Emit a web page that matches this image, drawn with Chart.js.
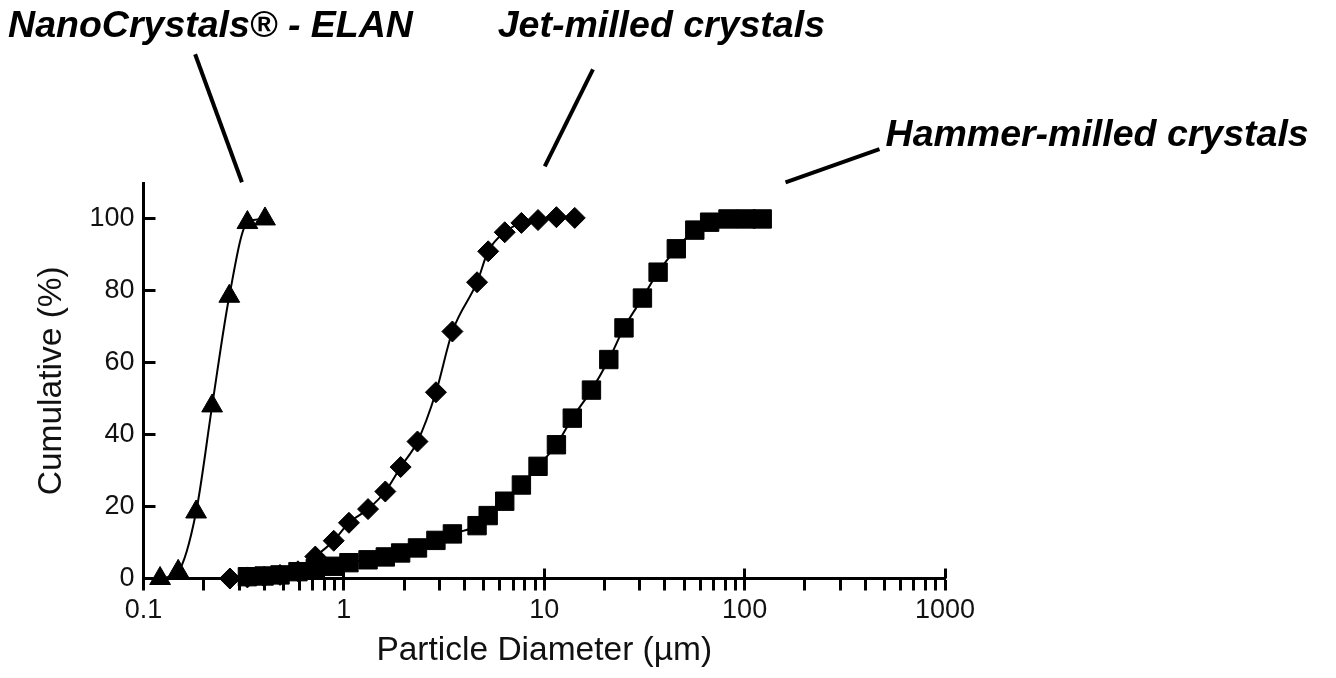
<!DOCTYPE html>
<html><head><meta charset="utf-8">
<script src="https://cdn.jsdelivr.net/npm/chart.js@4.4.0/dist/chart.umd.min.js"></script>
<style>html,body{margin:0;padding:0;background:#fff;}canvas{display:block}</style>
</head><body>
<canvas id="c" width="1336" height="678"></canvas>
<script>
// ---- data ----
const nanoX = [0.121, 0.149, 0.183, 0.220, 0.268, 0.330, 0.404];
const nanoY = [0, 2, 18.5, 48, 78.5, 99, 100];

const jetX = [0.27, 0.33, 0.40, 0.48, 0.59, 0.72, 0.89, 1.06, 1.32, 1.61, 1.92, 2.33, 2.88, 3.48, 4.62, 5.25, 6.35, 7.69, 9.31, 11.5, 14.2];
const jetY = [0, 0.3, 0.5, 1.0, 2.0, 6.1, 10.5, 15.5, 19.3, 24.2, 31, 38.1, 51.8, 68.7, 82.4, 91, 96.3, 98.9, 99.7, 100.5, 100.3];

const hammerX = [0.33, 0.40, 0.48, 0.59, 0.72, 0.89, 1.06, 1.32, 1.61, 1.92, 2.33, 2.88, 3.48, 4.62, 5.25, 6.35, 7.69, 9.31, 11.5, 13.8, 17.2, 21.0, 25.0, 30.9, 37.0, 45.6, 56.4, 66.9, 82.6, 101.8, 122.4];
const hammerY = [0.5, 0.7, 1.0, 1.9, 2.8, 3.4, 4.4, 5.2, 6.0, 7.1, 8.5, 10.6, 12.4, 14.7, 17.5, 21.5, 26.0, 31.2, 37.2, 44.6, 52.4, 60.9, 69.7, 78.0, 85.2, 91.7, 96.9, 99.1, 100, 100, 100];

const xMajorTicks = [0.1, 1, 10, 100, 1000];
const xMinorMultipliers = [2, 3, 4, 5, 6, 7, 8, 9];
const yTicks = [0, 20, 40, 60, 80, 100];

const seriesLabels = ['NanoCrystals® - ELAN', 'Jet-milled crystals', 'Hammer-milled crystals'];

// callout labels (anchored in data units)
const callouts = [
  {text: seriesLabels[0], at: [0.0211, 153.5], line: [[0.181, 145.8], [0.31, 110.2]]},
  {text: seriesLabels[1], at: [5.86, 153.5], line: [[17.5, 141.6], [10.06, 114.6]]},
  {text: seriesLabels[2], at: [505, 123.2], line: [[471, 119.4], [160, 110.2]]}
];

const xTickValues = [];
xMajorTicks.forEach((d, i) => {
  xTickValues.push(d);
  if (i < xMajorTicks.length - 1) xMinorMultipliers.forEach(m => xTickValues.push(d * m));
});

const FONT = '"Liberation Sans", Arial, sans-serif';

function ds(label, xs, ys, style, r) {
  return {
    label,
    data: xs.map((v, i) => ({x: v, y: ys[i]})),
    borderColor: '#000', borderWidth: 2, backgroundColor: '#000',
    pointStyle: style, pointRadius: r, pointHoverRadius: r,
    pointBackgroundColor: '#000', pointBorderColor: '#000', pointBorderWidth: 1,
    cubicInterpolationMode: 'monotone', fill: false, clip: false
  };
}

function align(px, w) { return Math.round(px - w / 2) + w / 2; }

const decor = {
  id: 'decor',
  afterDraw(chart) {
    const {ctx, scales: {x, y}} = chart;
    ctx.save();
    ctx.strokeStyle = '#000';
    ctx.lineWidth = 3;
    xMajorTicks.forEach(v => {
      const px = align(x.getPixelForValue(v), 3);
      ctx.beginPath();
      ctx.moveTo(px, y.bottom);
      ctx.lineTo(px, y.bottom - 10);
      ctx.stroke();
    });
    ctx.lineWidth = 4;
    ctx.fillStyle = '#000';
    ctx.font = 'italic bold 37.5px ' + FONT;
    ctx.textBaseline = 'middle';
    ctx.textAlign = 'left';
    callouts.forEach(c => {
      ctx.beginPath();
      ctx.moveTo(x.getPixelForValue(c.line[0][0]), y.getPixelForValue(c.line[0][1]));
      ctx.lineTo(x.getPixelForValue(c.line[1][0]), y.getPixelForValue(c.line[1][1]));
      ctx.stroke();
      ctx.fillText(c.text, x.getPixelForValue(c.at[0]), y.getPixelForValue(c.at[1]));
    });
    ctx.restore();
  }
};

new Chart(document.getElementById('c'), {
  type: 'line',
  data: {
    datasets: [
      ds(seriesLabels[2], hammerX, hammerY, 'rect', 13),
      ds(seriesLabels[1], jetX, jetY, 'rectRot', 10.5),
      ds(seriesLabels[0], nanoX, nanoY, 'triangle', 12)
    ]
  },
  options: {
    responsive: false, animation: false, devicePixelRatio: 1, events: [],
    layout: {padding: {left: 0, right: 391, top: 183, bottom: 0}},
    plugins: {legend: {display: false}, tooltip: {enabled: false}},
    scales: {
      x: {
        type: 'logarithmic', position: 'bottom', min: 0.1, max: 1000,
        afterBuildTicks(s) { s.ticks = xTickValues.map(v => ({value: v, major: xMajorTicks.includes(v)})); },
        afterFit(s) { s.height = 99.5; },
        ticks: {
          autoSkip: false, maxRotation: 0, minRotation: 0, padding: 4, color: '#111',
          font: {family: FONT, size: 27},
          callback: (v) => xMajorTicks.includes(v) ? String(v) : ''
        },
        grid: {display: true, drawOnChartArea: false, drawTicks: true, tickLength: 12, tickWidth: 3, tickColor: '#000'},
        border: {display: true, color: '#000', width: 3},
        title: {display: true, text: 'Particle Diameter (µm)', color: '#111', font: {family: FONT, size: 33.5}, padding: {top: 0, bottom: 7.5}}
      },
      y: {
        type: 'linear', position: 'left', min: 0, max: 110,
        afterBuildTicks(s) { s.ticks = yTicks.map(v => ({value: v})); },
        afterFit(s) { s.width = 143.5; },
        ticks: {padding: 21, color: '#111', font: {family: FONT, size: 27}},
        grid: {display: true, drawOnChartArea: false, drawTicks: true, tickLength: -12, tickWidth: 3, tickColor: '#000'},
        border: {display: true, color: '#000', width: 3},
        title: {display: true, text: 'Cumulative (%)', color: '#111', font: {family: FONT, size: 33.5}, padding: {top: 32, bottom: 0}}
      }
    }
  },
  plugins: [decor]
});
</script>
</body></html>
